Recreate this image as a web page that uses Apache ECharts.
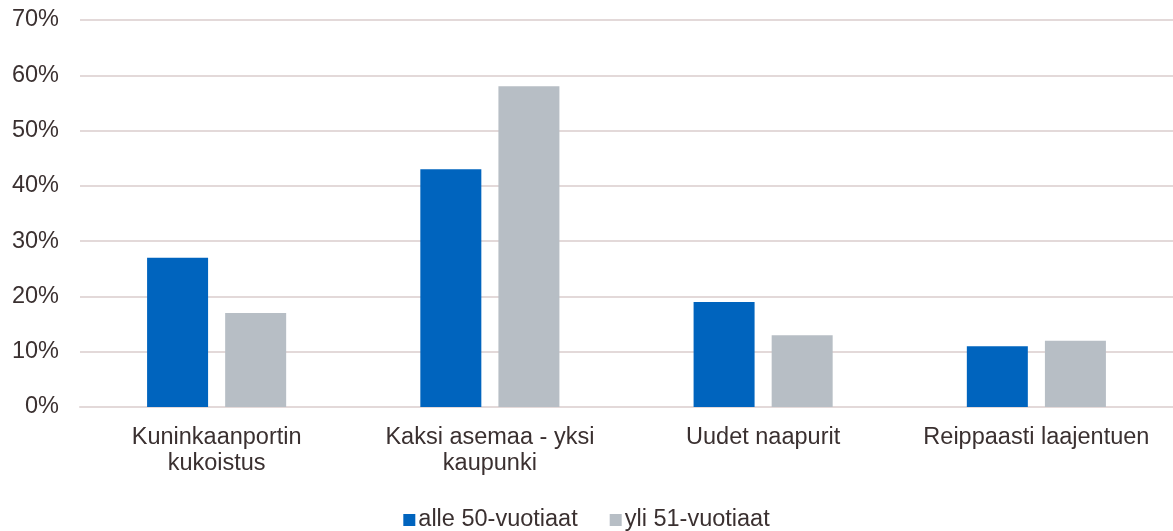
<!DOCTYPE html>
<html>
<head>
<meta charset="utf-8">
<script src="https://cdn.jsdelivr.net/npm/echarts@6/dist/echarts.min.js"></script>
<style>
  html, body { margin: 0; padding: 0; background: #fff; }
  #main { width: 1173px; height: 531px; }
</style>
</head>
<body>
<div id="main"></div>
<script>
// kategoriat ja arvot (%)
var categories = ['Kuninkaanportin\nkukoistus', 'Kaksi asemaa - yksi\nkaupunki', 'Uudet naapurit', 'Reippaasti laajentuen'];
var under50 = [27, 43, 19, 11];
var over51 = [17, 58, 13, 12];
var yTicks = [0, 10, 20, 30, 40, 50, 60, 70];

var textColor = '#3a3030';
var font = 'Liberation Sans, Arial, sans-serif';
var fs = 23.5;

var chart = echarts.init(document.getElementById('main'));
chart.setOption({
  animation: false,
  textStyle: { fontFamily: font },
  grid: { left: 80, right: 0, top: 20, bottom: 124 },
  legend: {
    bottom: -6,
    left: 'center',
    itemWidth: 12,
    itemHeight: 12,
    itemGap: 32,
    icon: 'rect',
    textStyle: { color: textColor, fontSize: fs, fontFamily: font, padding: [0, 0, 0, -2] },
    data: ['alle 50-vuotiaat', 'yli 51-vuotiaat']
  },
  xAxis: {
    type: 'category',
    data: categories,
    axisLine: { lineStyle: { color: '#e3d9d9', width: 2 } },
    axisTick: { show: false },
    axisLabel: { interval: 0, color: textColor, fontSize: fs, lineHeight: 26, margin: 18, fontFamily: font }
  },
  yAxis: {
    type: 'value',
    min: yTicks[0],
    max: yTicks[yTicks.length - 1],
    interval: 10,
    axisLine: { show: false },
    axisTick: { show: false },
    splitLine: { lineStyle: { color: '#e3d9d9', width: 2 } },
    axisLabel: { color: textColor, fontSize: fs, margin: 21, formatter: '{value}%', fontFamily: font }
  },
  series: [{
    name: 'alle 50-vuotiaat',
    type: 'bar',
    data: under50,
    barWidth: 61,
    barGap: '28%',
    itemStyle: { color: '#0064be' }
  }, {
    name: 'yli 51-vuotiaat',
    type: 'bar',
    data: over51,
    barWidth: 61,
    barGap: '28%',
    itemStyle: { color: '#b7bec5' }
  }]
});
</script>
</body>
</html>
